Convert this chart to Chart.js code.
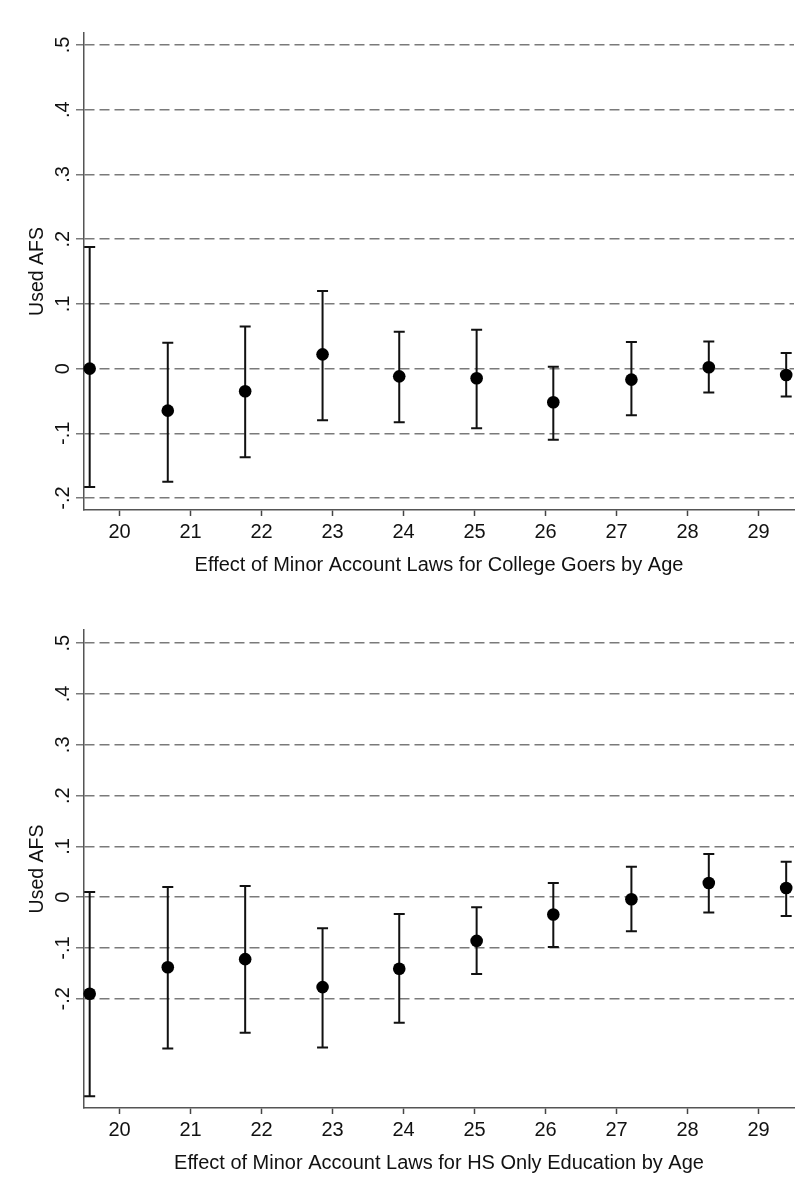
<!DOCTYPE html>
<html>
<head>
<meta charset="utf-8">
<script src="https://cdn.jsdelivr.net/npm/chart.js@4.4.1/dist/chart.umd.min.js"></script>
<style>
body { margin: 0; background: #fff; }
#top { position: absolute; left: 0; top: 0; width: 801px; height: 590px; }
#bottom { position: absolute; left: 0; top: 590px; width: 801px; height: 602px; }
</style>
</head>
<body>
<div id="top"><canvas id="collegeChart"></canvas></div>
<div id="bottom"><canvas id="hsChart"></canvas></div>
<script>
// ages on the axis, and where each estimate sits on that axis
var ages = [20, 21, 22, 23, 24, 25, 26, 27, 28, 29];
var agePos = [19.58, 20.68, 21.77, 22.86, 23.94, 25.03, 26.11, 27.21, 28.30, 29.39];
var yTicks = [-0.2, -0.1, 0, 0.1, 0.2, 0.3, 0.4, 0.5];
var yTickLabels = ["-.2", "-.1", "0", ".1", ".2", ".3", ".4", ".5"];

// college goers
var collegeEst = [0, -0.065, -0.035, 0.022, -0.012, -0.015, -0.052, -0.017, 0.002, -0.010];
var collegeHi = [0.188, 0.040, 0.065, 0.120, 0.057, 0.060, 0.003, 0.041, 0.042, 0.024];
var collegeLo = [-0.183, -0.175, -0.137, -0.080, -0.083, -0.092, -0.110, -0.072, -0.037, -0.043];

// HS only education
var hsEst = [-0.190, -0.138, -0.122, -0.177, -0.141, -0.086, -0.034, -0.004, 0.028, 0.018];
var hsHi = [0.010, 0.020, 0.022, -0.061, -0.033, -0.020, 0.028, 0.060, 0.085, 0.070];
var hsLo = [-0.392, -0.298, -0.267, -0.296, -0.247, -0.151, -0.098, -0.067, -0.030, -0.037];

var FONT = '"Liberation Sans", Arial, Helvetica, sans-serif';

var errorBars = {
    id: 'errorBars',
    beforeDatasetsDraw: function (chart) {
        var ctx = chart.ctx;
        var xs = chart.scales.x, ys = chart.scales.y;
        var ds = chart.data.datasets[0];
        ctx.save();
        ctx.strokeStyle = '#111';
        ctx.lineWidth = 2;
        for (var i = 0; i < ds.data.length; i++) {
            var px = xs.getPixelForValue(ds.data[i].x);
            var top = ys.getPixelForValue(ds.hi[i]);
            var bot = ys.getPixelForValue(ds.lo[i]);
            ctx.beginPath();
            ctx.moveTo(px, top); ctx.lineTo(px, bot);
            ctx.moveTo(px - 5.5, top); ctx.lineTo(px + 5.5, top);
            ctx.moveTo(px - 5.5, bot); ctx.lineTo(px + 5.5, bot);
            ctx.stroke();
        }
        ctx.restore();
    }
};

// stata style vertical tick labels on the y axis
var yLabels = {
    id: 'yLabels',
    afterDraw: function (chart) {
        var ctx = chart.ctx;
        var ys = chart.scales.y;
        ctx.save();
        ctx.fillStyle = '#111';
        ctx.font = '20px ' + FONT;
        ctx.textAlign = 'center';
        ctx.textBaseline = 'middle';
        for (var i = 0; i < yTicks.length; i++) {
            var py = ys.getPixelForValue(yTicks[i]);
            ctx.save();
            ctx.translate(63, py);
            ctx.rotate(-Math.PI / 2);
            ctx.fillText(yTickLabels[i], 0, 0);
            ctx.restore();
        }
        ctx.restore();
    }
};

function makeChart(id, est, lo, hi, title, yMin, yMax, padTop, xHeight, titlePad) {
    var pts = [];
    for (var i = 0; i < ages.length; i++) {
        pts.push({x: agePos[i], y: est[i]});
    }
    return new Chart(document.getElementById(id), {
        type: 'scatter',
        data: {
            datasets: [{
                data: pts,
                lo: lo,
                hi: hi,
                pointRadius: 6.3,
                pointHoverRadius: 6.3,
                pointBackgroundColor: '#000',
                pointBorderWidth: 0,
                clip: false
            }]
        },
        options: {
            responsive: true,
            maintainAspectRatio: false,
            animation: false,
            events: [],
            layout: {padding: {top: padTop, right: 7, left: 0, bottom: 0}},
            plugins: {legend: {display: false}, tooltip: {enabled: false}},
            scales: {
                x: {
                    type: 'linear',
                    min: 19.5,
                    max: 29.5,
                    afterBuildTicks: function (scale) {
                        scale.ticks = ages.map(function (a) { return {value: a}; });
                    },
                    afterFit: function (scale) { scale.height = xHeight; },
                    grid: {drawOnChartArea: false, drawTicks: true, tickLength: 6, tickColor: '#444', tickWidth: 1.5},
                    border: {display: true, color: '#555', width: 1.5},
                    ticks: {color: '#111', font: {family: FONT, size: 20}, padding: 4, maxRotation: 0, autoSkip: false},
                    title: {display: true, text: title, color: '#111', font: {family: FONT, size: 20}, padding: {bottom: titlePad}}
                },
                y: {
                    type: 'linear',
                    min: yMin,
                    max: yMax,
                    afterBuildTicks: function (scale) {
                        scale.ticks = yTicks.map(function (v) { return {value: v}; });
                    },
                    afterFit: function (scale) { scale.width = 84; },
                    grid: {color: '#7a7a7a', lineWidth: 1.5, drawTicks: true, tickLength: 8, tickColor: '#7a7a7a', tickWidth: 1.5},
                    border: {display: true, color: '#555', width: 1.5, dash: [10, 5]},
                    ticks: {display: false},
                    title: {display: true, text: 'Used AFS', color: '#111', font: {family: FONT, size: 19.5}, padding: {top: 26}}
                }
            }
        },
        plugins: [errorBars, yLabels]
    });
}

makeChart('collegeChart', collegeEst, collegeLo, collegeHi,
    'Effect of Minor Account Laws for College Goers by Age', -0.2185, 0.5185, 33, 80, 13);
makeChart('hsChart', hsEst, hsLo, hsHi,
    'Effect of Minor Account Laws for HS Only Education by Age', -0.415, 0.526, 40, 84, 17);
</script>
</body>
</html>
